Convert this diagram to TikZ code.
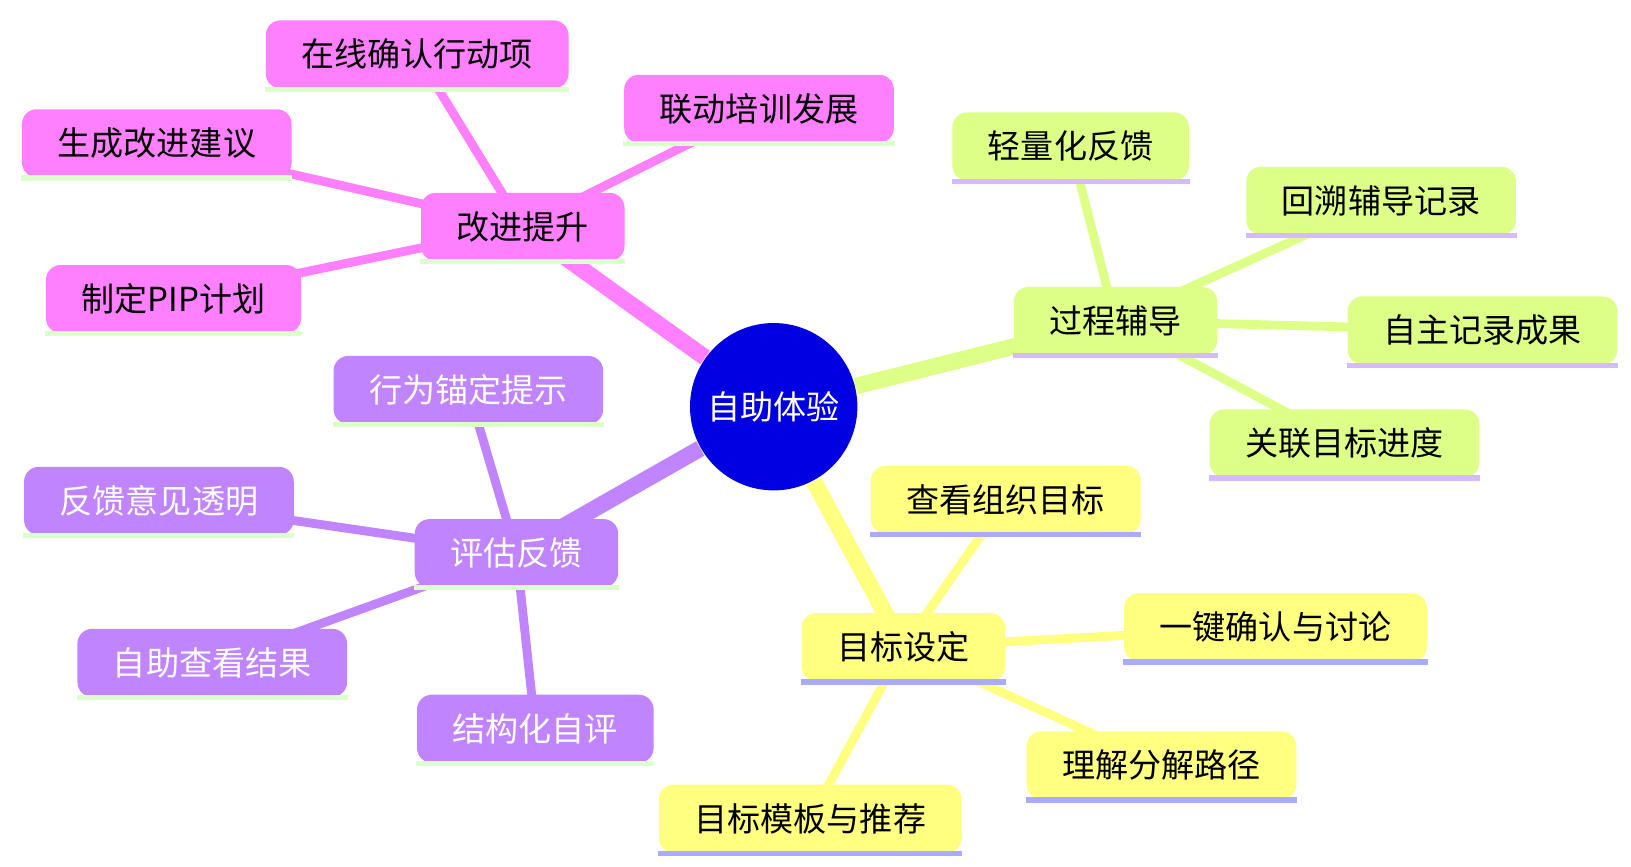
\documentclass[tikz,border=0pt]{standalone}
\usepackage{fontspec}
\setmainfont{Noto Sans CJK SC}
\usetikzlibrary{backgrounds}
\definecolor{pinkc}{HTML}{FF80FF}
\definecolor{limec}{HTML}{DDFF88}
\definecolor{yelc}{HTML}{FFFF80}
\definecolor{purc}{HTML}{C084FF}
\definecolor{lgreen}{HTML}{DDFFCC}
\definecolor{lavc}{HTML}{D4BBFF}
\definecolor{bluul}{HTML}{AAAAFF}
\begin{document}
\begin{tikzpicture}[x=0.01cm,y=-0.01cm,
    topic/.style={rounded corners=4pt, inner xsep=0.34cm, minimum height=0.65cm, font=\fontsize{9}{11}\selectfont},
    pinkbox/.style={topic, fill=pinkc},
    limebox/.style={topic, fill=limec},
    yelbox/.style={topic, fill=yelc},
    purbox/.style={topic, fill=purc, text=white},
    mainedge/.style={line width=4.5pt},
    subedge/.style={line width=2.4pt}]
    \useasboundingbox (0,0) rectangle (1560,829);
    \node[circle, fill=blue!88!black, minimum size=1.6cm, text=white, font=\fontsize{9}{11}\selectfont] (root) at (740,389) {自助体验};

    % pink branch
    \node[pinkbox] (improve) at (500,217) {改进提升};
    \node[pinkbox] (online) at (399,52) {在线确认行动项};
    \node[pinkbox] (train) at (726,104) {联动培训发展};
    \node[pinkbox] (advice) at (150,137) {生成改进建议};
    \node[pinkbox] (pip) at (166,286) {制定PIP计划};

    % lime branch
    \node[limebox] (coach) at (1067,307) {过程辅导};
    \node[limebox] (light) at (1024,140) {轻量化反馈};
    \node[limebox] (trace) at (1321,192) {回溯辅导记录};
    \node[limebox] (record) at (1418,316) {自主记录成果};
    \node[limebox] (link) at (1286,424) {关联目标进度};

    % yellow branch
    \node[yelbox] (goal) at (864,619) {目标设定};
    \node[yelbox] (org) at (962,478) {查看组织目标};
    \node[yelbox] (confirm) at (1220,600) {一键确认与讨论};
    \node[yelbox] (path) at (1111,732) {理解分解路径};
    \node[yelbox] (tmpl) at (775,783) {目标模板与推荐};

    % purple branch
    \node[purbox] (eval) at (494,529) {评估反馈};
    \node[purbox] (anchor) at (448,373) {行为锚定提示};
    \node[purbox] (open) at (152,479) {反馈意见透明};
    \node[purbox] (self) at (203,634) {自助查看结果};
    \node[purbox] (struct) at (512,697) {结构化自评};

    % underlines
    \foreach \n in {improve,online,train,advice,pip,eval}
        \draw[lgreen, line width=1.4pt] (\n.south west) -- (\n.south east);
    \foreach \n in {anchor,open,self,struct}
        \draw[lgreen, line width=1.4pt] (\n.south west) -- (\n.south east);
    \foreach \n in {coach,light,trace,record,link}
        \draw[lavc, line width=1.4pt] (\n.south west) -- (\n.south east);
    \foreach \n in {goal,org,confirm,path,tmpl}
        \draw[bluul, line width=1.4pt] (\n.south west) -- (\n.south east);

    \begin{scope}[on background layer]
        \draw[mainedge, pinkc] (root) -- (improve.center);
        \draw[mainedge, limec] (root) -- (coach.center);
        \draw[mainedge, yelc] (root) -- (goal.center);
        \draw[mainedge, purc] (root) -- (eval.center);
        \foreach \c in {online,train,advice,pip}
            \draw[subedge, pinkc] (improve.center) -- (\c.center);
        \foreach \c in {light,trace,record,link}
            \draw[subedge, limec] (coach.center) -- (\c.center);
        \foreach \c in {org,confirm,path,tmpl}
            \draw[subedge, yelc] (goal.center) -- (\c.center);
        \foreach \c in {anchor,open,self,struct}
            \draw[subedge, purc] (eval.center) -- (\c.center);
    \end{scope}
\end{tikzpicture}
\end{document}
